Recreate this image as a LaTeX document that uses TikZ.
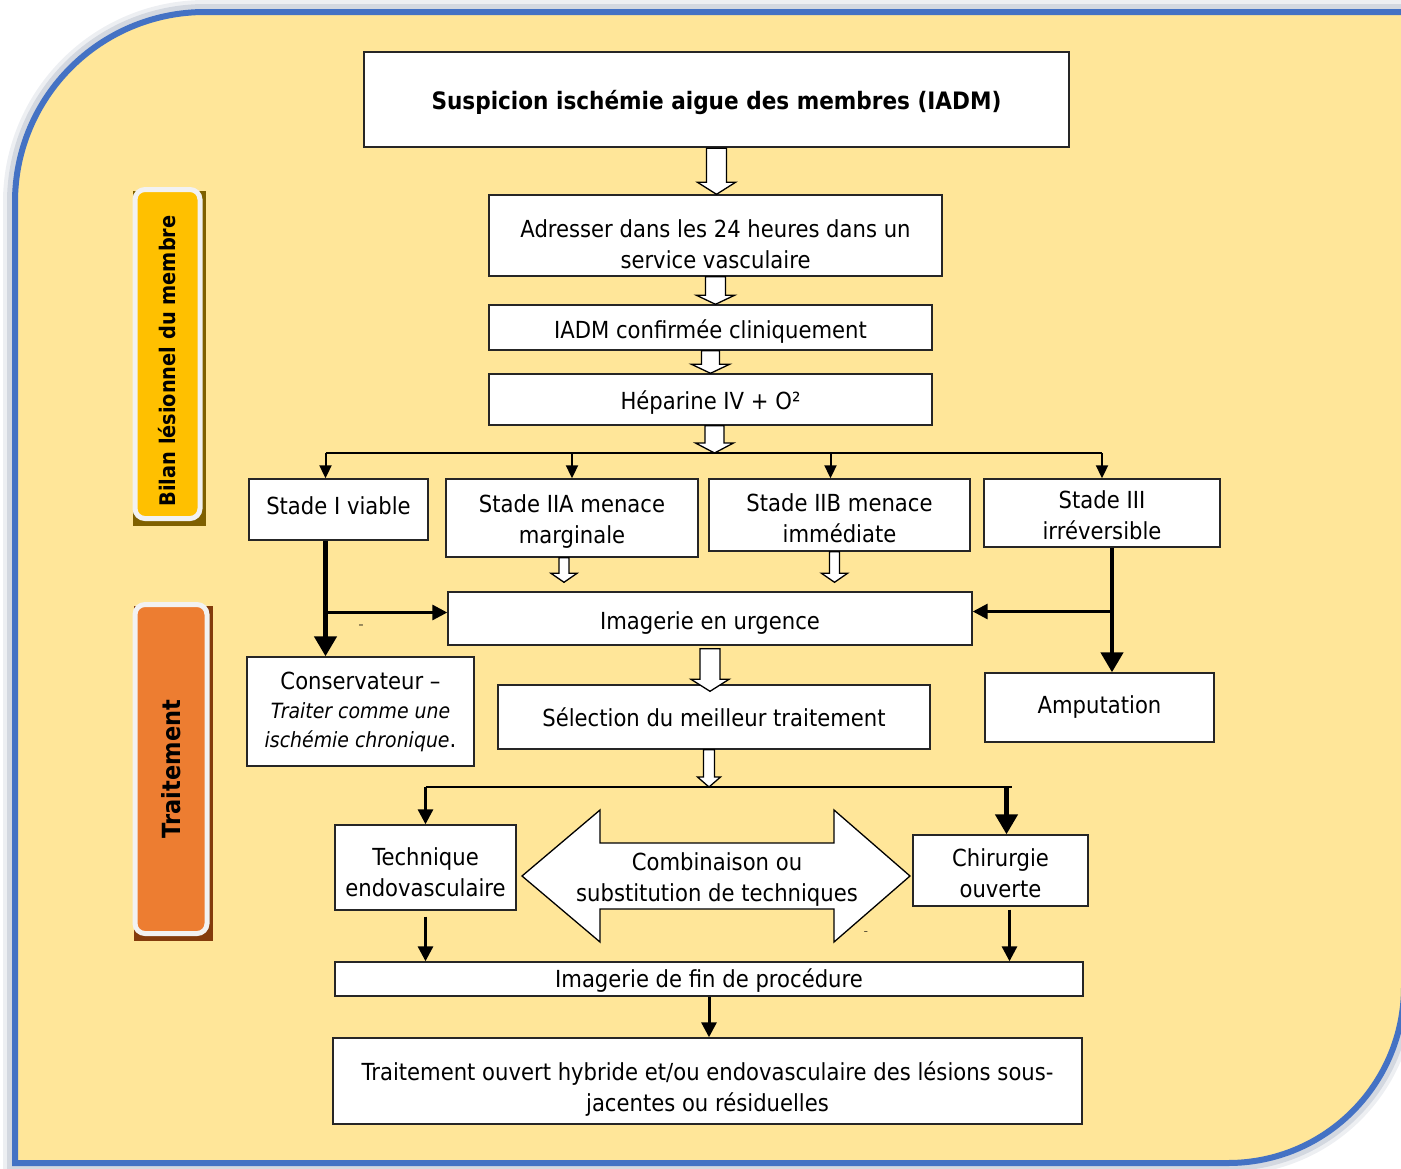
\documentclass[tikz,border=0pt]{standalone}
\usepackage{fontspec}
\setmainfont{DejaVu Sans}[FakeStretch=0.9]
\usetikzlibrary{arrows.meta,calc}
\definecolor{fond}{HTML}{FFE699}
\definecolor{cadre}{HTML}{4472C4}
\definecolor{jaune}{HTML}{FFC000}
\definecolor{jauneombre}{HTML}{7F6000}
\definecolor{orangeT}{HTML}{ED7D31}
\definecolor{orangeombre}{HTML}{843C0C}
\definecolor{bordlabel}{HTML}{F2F2F2}
\newcommand{\haut}[1]{\rule{0pt}{#1}}
\tikzset{
  box/.style={draw=black!85, fill=white, line width=1.4pt, align=center,
    inner sep=0pt, font=\fontsize{23.5}{31}\selectfont},
  bas/.style={execute at begin node={\haut{#1}}},
  thinarr/.style={line width=2pt, -{Triangle[length=13pt,width=12pt]}},
  midarr/.style={line width=3pt, -{Triangle[length=15pt,width=15pt]}},
  thickarr/.style={line width=4.5pt, -{Triangle[length=20pt,width=22pt]}},
  hollow/.style n args={3}{draw=black, line width=1.3pt, fill=white,
    to path={let \p1=(\tikztostart), \p2=(\tikztotarget) in
      (\x1-#1,\y1) -- (\x1+#1,\y1) -- (\x1+#1,\y2+#3) -- (\x1+#2,\y2+#3)
      -- (\x1,\y2) -- (\x1-#2,\y2+#3) -- (\x1-#1,\y2+#3) -- cycle}},
  sidelabel/.style={draw=bordlabel, line width=5pt, rounded corners=10pt,
    rotate=90, inner sep=0pt}
}

\begin{document}
\begin{tikzpicture}[x=1pt, y=-1pt]
  \useasboundingbox (0,0) rectangle (1401,1168);
  % fond
  \path [fill=fond,
    preaction={draw=cadre!35!gray, line width=24pt, opacity=0.12},
    preaction={draw=cadre!35!gray, line width=16pt, opacity=0.2},
    postaction={draw=cadre, line width=6pt}]
    (15,1163) -- (15,202) arc [start angle=180, end angle=270, radius=190]
    -- (1404,12) -- (1404,987) arc [start angle=0, end angle=90, radius=176]
    -- cycle;

  % etiquettes laterales
  \fill [jauneombre] (133,191) rectangle (206,526);
  \node [sidelabel, fill=jaune, minimum width=329pt, minimum height=65pt,
    font=\bfseries\fontsize{21.5}{24}\selectfont]
    (Bilan) at (167.5,354) {Bilan lésionnel du membre\hspace*{14pt}};
  \fill [orangeombre] (134,606) rectangle (213,941);
  \node [sidelabel, fill=orangeT, minimum width=329pt, minimum height=72pt,
    font=\bfseries\fontsize{25}{28}\selectfont]
    (Trait) at (171,769) {Traitement};

  % boites
  \node [box, bas=26pt, line width=2.6pt, minimum width=705pt, minimum height=95pt,
    font=\bfseries\fontsize{24}{31}\selectfont]
    (Susp) at (716.5,99.5) {Suspicion ischémie aigue des membres (IADM)};
  \node [box, minimum width=453pt, minimum height=81pt] (Adr) at (715.5,235.5)
    {\haut{36pt}Adresser dans les 24 heures dans un\\service vasculaire};
  \node [box, bas=26pt, minimum width=443pt, minimum height=45pt] (Conf) at (710.5,327.5)
    {IADM confirmée cliniquement};
  \node [box, bas=24pt, minimum width=443pt, minimum height=51pt] (Hep) at (710.5,399.5)
    {Héparine IV + O²};
  \node [box, text depth=8pt, minimum width=179pt, minimum height=61pt] (S1) at (338.5,509.5)
    {Stade I viable};
  \node [box, minimum width=252pt, minimum height=78pt] (S2A) at (572,518)
    {\haut{24pt}Stade IIA menace\\marginale};
  \node [box, minimum width=261pt, minimum height=72pt] (S2B) at (839.5,515)
    {\haut{24pt}Stade IIB menace\\immédiate};
  \node [box, minimum width=236pt, minimum height=68pt] (S3) at (1102,513)
    {\haut{22pt}Stade III\\irréversible};
  \node [box, bas=26pt, minimum width=524pt, minimum height=53pt] (ImU) at (710,618.5)
    {Imagerie en urgence};
  \node [box, minimum width=227pt, minimum height=109pt,
    font=\fontsize{23.5}{29}\selectfont] (Cons) at (360.5,711.5)
    {Conservateur –\\{\fontsize{21}{29}\selectfont\itshape Traiter comme une}\\{\fontsize{21}{29}\selectfont\itshape ischémie chronique}.};
  \node [box, minimum width=432pt, minimum height=64pt] (Sel) at (714,717)
    {Sélection du meilleur traitement};
  \node [box, minimum width=229pt, minimum height=69pt] (Amp) at (1099.5,707.5)
    {Amputation};
  \node [box, minimum width=181pt, minimum height=85pt] (Tech) at (425.5,867.5)
    {\haut{28pt}Technique\\endovasculaire};
  \node [box, minimum width=175pt, minimum height=71pt] (Chir) at (1000.5,870.5)
    {\haut{24pt}Chirurgie\\ouverte};
  \node [box, bas=22pt, minimum width=748pt, minimum height=34pt] (ImF) at (709,979)
    {Imagerie de fin de procédure};
  \node [box, minimum width=749pt, minimum height=86pt] (Trt) at (707.5,1081)
    {\haut{34pt}Traitement ouvert hybride et/ou endovasculaire des lésions sous-\\jacentes ou résiduelles};

  % double fleche
  \draw [draw=black, line width=1.3pt, fill=white]
    (522,876) -- (600,810) -- (600,843) -- (834,843) -- (834,810) -- (910,876)
    -- (834,942) -- (834,909) -- (600,909) -- (600,942) -- cycle;
  \node [align=center, font=\fontsize{23.5}{31}\selectfont] (Comb) at (717,880)
    {Combinaison ou\\substitution de techniques};

  % tirets isoles
  \node [font=\fontsize{11}{11}\selectfont, inner sep=0pt] (T1) at (361,627) {–};
  \node [font=\fontsize{9}{9}\selectfont, inner sep=0pt] (T2) at (866,933) {–};

  % fleches creuses
  \coordinate (B1) at (714,453);
  \coordinate (B2) at (709,787);
  \coordinate (ImUh) at ([yshift=9pt]ImU.north);
  \draw [hollow={10pt}{19pt}{12pt}] (Susp.south) to (Adr.north);
  \draw [hollow={10pt}{19pt}{9pt}] (Adr.south) to (Conf.north);
  \draw [hollow={9pt}{19pt}{9pt}] (Conf.south) to (Hep.north);
  \draw [hollow={9.5pt}{19pt}{10pt}] ([xshift=4pt]Hep.south) to (B1);
  \draw [hollow={5pt}{13pt}{9pt}] ([xshift=-8pt]S2A.south) to ([xshift=-8pt]S2A.south |- ImUh);
  \draw [hollow={5pt}{13pt}{9pt}] ([xshift=-5pt]S2B.south) to ([xshift=-5pt]S2B.south |- ImUh);
  \draw [hollow={10pt}{19pt}{12pt}] ([yshift=-3pt]ImU.south) to ([yshift=-7pt]Sel.north);
  \draw [hollow={5.5pt}{11.5pt}{10pt}] ([xshift=-5pt]Sel.south) to (B2);

  % stades
  \draw [line width=2pt] ([xshift=-13pt]S1.north |- B1) -- (S3.north |- B1);
  \draw [thinarr] ([xshift=-13pt]S1.north |- B1) -- ([xshift=-13pt]S1.north);
  \draw [thinarr] (S2A.north |- B1) -- (S2A.north);
  \draw [thinarr] ([xshift=-9pt]S2B.north |- B1) -- ([xshift=-9pt]S2B.north);
  \draw [thinarr] (S3.north |- B1) -- (S3.north);

  \coordinate (S1bas) at ([xshift=-13pt]S1.south);
  \coordinate (S3bas) at ([xshift=10pt]S3.south);
  \coordinate (ImUg) at ([yshift=6pt]ImU.west);
  \coordinate (ImUd) at ([yshift=7pt]ImU.east);
  \draw [thickarr] (S1bas) -- (S1bas |- Cons.north);
  \draw [midarr] (S1bas |- ImUg) -- (ImUg);
  \draw [thickarr] (S3bas) -- (S3bas |- Amp.north);
  \draw [midarr] (S3bas |- ImUd) -- (ImUd);

  % traitements
  \coordinate (ChirH) at ([xshift=6pt]Chir.north);
  \coordinate (ChirB) at ([xshift=9pt,yshift=-3pt]Chir.south);
  \draw [line width=2pt] (Tech.north |- B2) -- ([xshift=5pt]ChirH |- B2);
  \draw [midarr] (Tech.north |- B2) -- (Tech.north);
  \draw [thickarr] (ChirH |- B2) -- (ChirH);
  \draw [midarr] ([yshift=-6pt]Tech.south) -- (Tech.south |- ImF.north);
  \draw [midarr] (ChirB) -- (ChirB |- ImF.north);
  \draw [midarr] (ImF.south) -- (ImF.south |- Trt.north);
\end{tikzpicture}
\end{document}
